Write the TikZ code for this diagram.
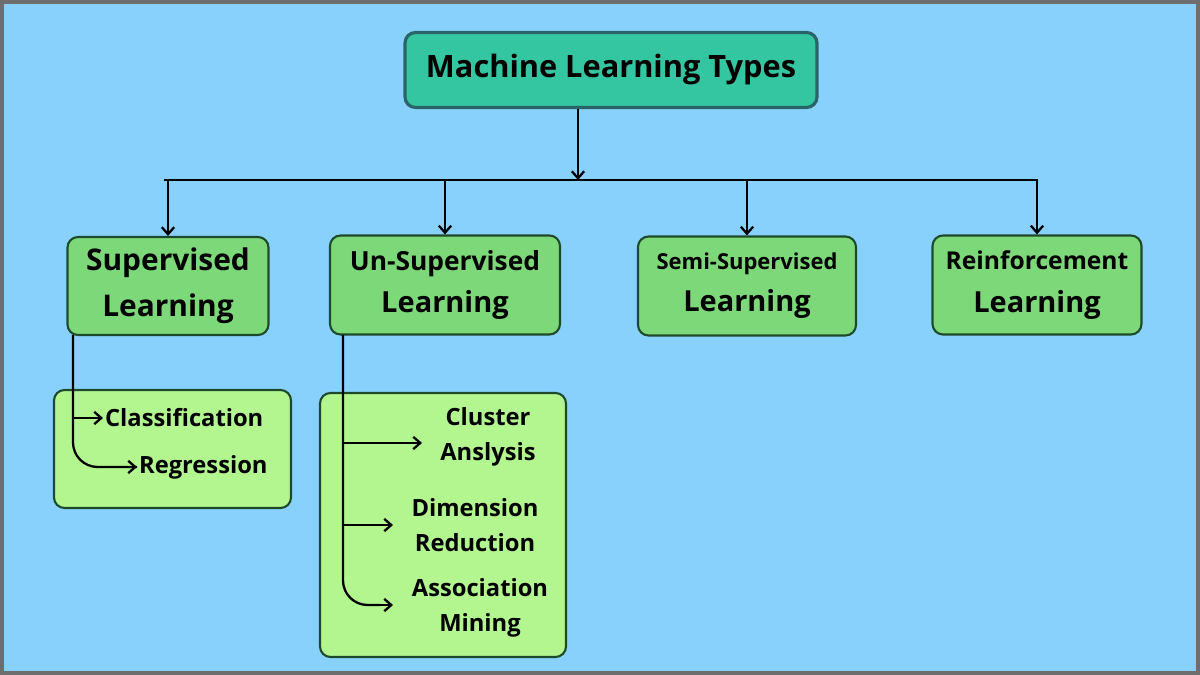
\documentclass[tikz,border=0pt]{standalone}
\usepackage{fontspec}
\setmainfont{Open Sans}
\usetikzlibrary{arrows.meta, positioning}
\definecolor{skyback}{HTML}{87D1FC}
\definecolor{frame}{HTML}{6E6E6E}
\definecolor{teal}{HTML}{33C6A0}
\definecolor{tealedge}{HTML}{2A6468}
\definecolor{midgreen}{HTML}{7DD87A}
\definecolor{lightgreen}{HTML}{B3F58F}
\definecolor{darkedge}{HTML}{1F4A2A}
\tikzset{
  box/.style={draw=darkedge, line width=1.2pt, rounded corners=6pt, fill=midgreen,
    align=center, font=\bfseries, inner sep=0pt},
  sub/.style={draw=darkedge, line width=1.2pt, rounded corners=6pt, fill=lightgreen},
  item/.style={font=\bfseries\fontsize{13.5}{20}\selectfont, align=center, inner sep=1pt},
  link/.style={line width=1.3pt, -{Straight Barb[length=4pt,width=7pt]}}
}
\begin{document}
\begin{tikzpicture}[x=0.02cm, y=-0.02cm]
    % Background
    \fill[frame] (0,0) rectangle (1200,675);
    \fill[skyback] (4,4) rectangle (1196,671);
    % Title
    \node[box, fill=teal, draw=tealedge, line width=1.8pt, minimum width=412*0.02cm, minimum height=75*0.02cm,
      font=\bfseries\fontsize{17.5}{21}\selectfont] (title) at (611,70) {Machine Learning Types};
    % Four types
    \node[box, minimum width=201*0.02cm, minimum height=98*0.02cm, font=\bfseries\fontsize{17}{26}\selectfont]
      (sup) at (168,286) {Supervised\\Learning};
    \node[box, minimum width=230*0.02cm, minimum height=99*0.02cm, font=\bfseries\fontsize{15}{24}\selectfont]
      (unsup) at (445,285) {Un-Supervised\\\fontsize{16.5}{24}\selectfont Learning};
    \node[box, minimum width=218*0.02cm, minimum height=99*0.02cm, font=\bfseries\fontsize{12.5}{24}\selectfont]
      (semi) at (747,286) {Semi-Supervised\\\fontsize{16.5}{24}\selectfont Learning};
    \node[box, minimum width=209*0.02cm, minimum height=99*0.02cm, font=\bfseries\fontsize{14}{24}\selectfont]
      (reinf) at (1037,285) {Reinforcement\\\fontsize{16.5}{24}\selectfont Learning};
    % Sub-type panels
    \draw[sub] (54,390) rectangle (291,508);
    \draw[sub] (320,393) rectangle (566,657);
    \node[item, anchor=west] (cls) at (103,418) {Classification};
    \node[item, anchor=west] (reg) at (137,467) {Regression};
    \node[item] (clu) at (488,437) {Cluster\\Anslysis};
    \node[item] (dim) at (475,525) {Dimension\\Reduction};
    \node[item] (asso) at (480,608) {Association\\Mining};
    % Draw arrows
    \coordinate (hub) at (578,180);
    \draw[link] (title.south -| hub) -- (hub);
    \draw[line width=1.3pt] (164,180) -- (1038,180);
    \foreach \t in {sup, unsup, semi, reinf}
      \draw[link] (\t.north |- hub) -- (\t.north);
    \draw[line width=1.3pt, rounded corners=14pt] (73,335) -- (73,467) -- (reg.west);
    \draw[link] (73,418) -- (cls.west);
    \draw[link, rounded corners=0pt] (104,467) -- (reg.west);
    \draw[line width=1.3pt, rounded corners=14pt] (343,335) -- (343,605) -- (380,605);
    \draw[link] (343,443) -- (422,443);
    \draw[link] (343,525) -- (393,525);
    \draw[link] (370,605) -- (393,605);
\end{tikzpicture}
\end{document}
